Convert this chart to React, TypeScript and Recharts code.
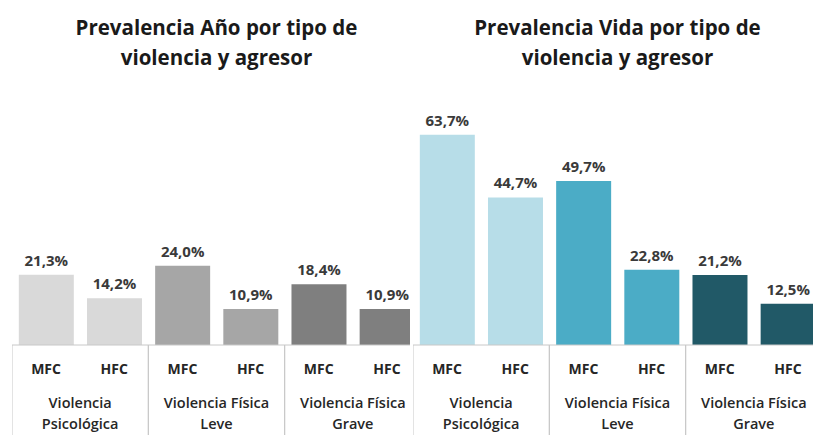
import React from 'react';
import { BarChart, Bar, XAxis, YAxis, Cell, LabelList } from 'recharts';

const agresores = ['MFC', 'HFC', 'MFC', 'HFC', 'MFC', 'HFC'];
const tipos = ['Violencia|Psicológica', 'Violencia Física|Leve', 'Violencia Física|Grave'];
const prevalenciaAno = [21.3, 14.2, 24.0, 10.9, 18.4, 10.9];
const prevalenciaVida = [63.7, 44.7, 49.7, 22.8, 21.2, 12.5];
const coloresAno = ['#d9d9d9', '#d9d9d9', '#a6a6a6', '#a6a6a6', '#7f7f7f', '#7f7f7f'];
const coloresVida = ['#b7dde8', '#b7dde8', '#4bacc6', '#4bacc6', '#215967', '#215967'];
const tituloAno = ['Prevalencia Año por tipo de', 'violencia y agresor'];
const tituloVida = ['Prevalencia Vida por tipo de', 'violencia y agresor'];

const PLOT_W = 409;
const CAT_W = PLOT_W / 6;
const FONT = '"Open Sans", "Noto Sans", sans-serif';
const SEP = '#c8c8c8';

const buildData = (values: number[], colors: string[]) =>
  values.map((v, i) => ({
    name: agresores[i],
    group: tipos[Math.floor(i / 2)],
    value: v,
    color: colors[i],
  }));

const fmt = (v: any) => `${Number(v).toFixed(1).replace('.', ',')}%`;

const Tick = (props: any) => {
  const { x, y, index, payload } = props;
  const groupIdx = Math.floor(index / 2);
  const lines = tipos[groupIdx].split('|');
  const els: any[] = [];
  els.push(
    <text key="a" x={x} y={y + 28.5} textAnchor="middle" fontFamily={FONT} fontSize={14} fontWeight={700} fill="#262626">
      {payload.value}
    </text>
  );
  if (index % 2 === 0) {
    const cx = x + CAT_W / 2;
    lines.forEach((ln, li) => {
      els.push(
        <text key={'g' + li} x={cx} y={y + 62.5 + li * 21} textAnchor="middle" fontFamily={FONT} fontSize={14.5} fontWeight={600} fill="#262626">
          {ln}
        </text>
      );
    });
    els.push(<line key="s1" x1={x - CAT_W / 2} x2={x - CAT_W / 2} y1={y} y2={y + 95} stroke={SEP} strokeWidth={1} />);
  } else {
    els.push(<line key="s2" x1={x + CAT_W / 2} x2={x + CAT_W / 2} y1={y} y2={y + 95} stroke={SEP} strokeWidth={1} />);
  }
  return <g>{els}</g>;
};

const Panel = ({ values, colors }: { values: number[]; colors: string[] }) => {
  const data = buildData(values, colors);
  return (
    <BarChart
      width={PLOT_W}
      height={435}
      data={data}
      margin={{ top: 114, right: 0, bottom: 0, left: 0 }}
      barCategoryGap="10%"
    >
      <YAxis hide domain={[0, 70]} type="number" />
      <XAxis
        dataKey="name"
        interval={0}
        height={90}
        tickSize={0}
        tickMargin={0}
        tickLine={false}
        axisLine={{ stroke: SEP }}
        tick={<Tick />}
      />
      <Bar dataKey="value" isAnimationActive={false}>
        {data.map((d, i) => (
          <Cell key={i} fill={d.color} />
        ))}
        <LabelList
          dataKey="value"
          position="top"
          offset={9}
          formatter={fmt}
          style={{ fontFamily: FONT, fontSize: 15, fontWeight: 700, fill: '#3a3a3a' }}
        />
      </Bar>
    </BarChart>
  );
};

const Title = ({ lines, center }: { lines: string[]; center: number }) => (
  <div
    style={{
      position: 'absolute',
      left: center - 200,
      top: 12,
      width: 400,
      textAlign: 'center',
      fontFamily: FONT,
      fontWeight: 700,
      fontSize: 20.5,
      lineHeight: '30px',
      color: '#1a1a1a',
    }}
  >
    {lines.map((l, i) => (
      <div key={i}>{l}</div>
    ))}
  </div>
);

export default function App() {
  return (
    <div
      style={{
        position: 'absolute',
        left: 0,
        top: 0,
        width: 813,
        height: 435,
        overflow: 'hidden',
        background: '#ffffff',
      }}
    >
      <div style={{ position: 'absolute', left: 12, top: 0, width: PLOT_W, height: 435 }}>
        <Panel values={prevalenciaAno} colors={coloresAno} />
      </div>
      <div style={{ position: 'absolute', left: 410, top: 0, width: 420, height: 435, background: '#ffffff' }}>
        <div style={{ position: 'absolute', left: 3, top: 0 }}>
          <Panel values={prevalenciaVida} colors={coloresVida} />
        </div>
      </div>
      <Title lines={tituloAno} center={216.5} />
      <Title lines={tituloVida} center={617.5} />
    </div>
  );
}
